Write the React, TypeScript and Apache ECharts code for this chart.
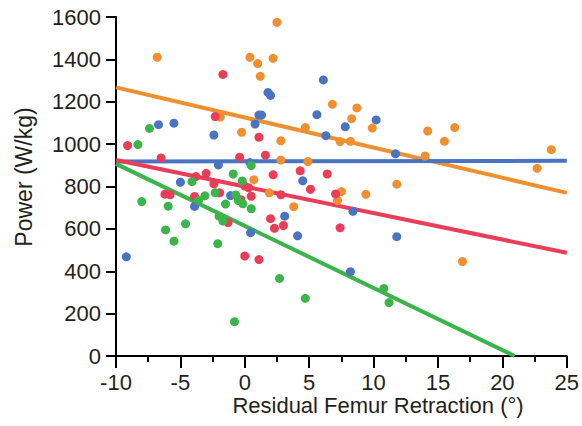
import React, { useEffect, useRef } from "react";
import * as echarts from "echarts";

const xTicks = { min: -10, max: 25, interval: 5 };
const yTicks = { min: 0, max: 1600, interval: 200 };
const xTitle = "Residual Femur Retraction (°)";
const yTitle = "Power (W/kg)";

const orangePts: [number, number][] = [
  [-6.8, 1410], [2.5, 1575], [0.4, 1410], [1.0, 1380], [2.2, 1405], [1.2, 1320],
  [6.8, 1188], [-1.9, 1128], [-0.25, 1056], [4.7, 1078], [2.8, 1016], [2.8, 925],
  [4.9, 918], [0.7, 832], [8.7, 1171], [8.3, 1120], [9.9, 1076], [7.4, 1012],
  [8.2, 1013], [14.2, 1062], [16.3, 1078], [15.5, 1013], [14.0, 944], [23.8, 974],
  [22.7, 886], [11.8, 811], [7.5, 776], [7.2, 734], [9.4, 763], [1.9, 770],
  [3.8, 705], [16.9, 446],
];

const bluePts: [number, number][] = [
  [-6.7, 1092], [-5.5, 1099], [-2.4, 1043], [6.1, 1303], [1.8, 1244], [2.0, 1230],
  [1.1, 1137], [1.3, 1137], [0.8, 1095], [5.6, 1139], [6.3, 1040], [7.8, 1082],
  [10.2, 1114], [11.7, 954], [-2.05, 902], [0.4, 913], [-5.0, 820], [4.5, 827],
  [-3.9, 706], [-1.1, 757], [3.1, 660], [0.45, 582], [4.1, 567], [-9.2, 468],
  [8.4, 683], [11.8, 563], [8.2, 398],
];

const redPts: [number, number][] = [
  [-1.7, 1329], [-2.3, 1130], [1.1, 1033], [-9.1, 993], [-6.5, 935], [-0.4, 938],
  [1.6, 948], [2.2, 855], [4.3, 874], [6.4, 859], [-3.0, 862], [-3.8, 847],
  [-2.4, 812], [5.1, 787], [7.05, 765], [-6.2, 764], [-5.8, 761], [-3.9, 753],
  [-1.95, 770], [0.0, 802], [0.3, 794], [0.5, 754], [-0.3, 738], [2.8, 761],
  [2.0, 648], [2.3, 603], [3.0, 616], [-1.3, 630], [0.0, 472], [1.1, 455],
  [7.4, 605],
];

const greenPts: [number, number][] = [
  [-7.4, 1074], [-8.3, 998], [-0.9, 859], [-0.2, 826], [-4.1, 823], [0.5, 899],
  [-8.0, 729], [-5.95, 707], [-3.6, 734], [-3.1, 756], [-2.3, 771], [-1.5, 717],
  [-0.7, 760], [-0.5, 734], [-0.15, 718], [0.5, 695], [-2.0, 660], [-1.7, 637],
  [-4.6, 624], [-6.15, 595], [-5.5, 542], [-2.1, 530], [2.7, 366], [4.7, 272],
  [-0.8, 162], [10.8, 319], [11.2, 252],
];

const orangeFit: [number, number][] = [[-10, 1268], [25, 770]];
const blueFit: [number, number][] = [[-10, 918], [25, 921]];
const redFit: [number, number][] = [[-10, 925], [25, 487]];
const greenFit: [number, number][] = [[-10, 907], [20.95, 0]];

const COLORS = {
  orange: "#EF9030",
  blue: "#4A74C2",
  red: "#EA3D57",
  green: "#3BB44A",
};

const FONT = "'Liberation Sans', Arial, Helvetica, sans-serif";
const TEXT = "#231F20";

export default function App() {
  const ref = useRef<HTMLDivElement>(null);

  useEffect(() => {
    document.body.style.margin = "0";
    if (!ref.current) return;
    const chart = echarts.init(ref.current, undefined, { renderer: "svg" });

    const scatter = (data: [number, number][], color: string) => ({
      type: "scatter",
      data,
      symbol: "circle",
      symbolSize: 9,
      itemStyle: { color, opacity: 1 },
      z: 3,
      silent: true,
    });
    const fit = (data: [number, number][], color: string) => ({
      type: "line",
      data,
      symbol: "none",
      lineStyle: { color, width: 4 },
      z: 2,
      silent: true,
    });

    chart.setOption({
      animation: false,
      backgroundColor: "#ffffff",
      grid: { left: 116, right: 13, top: 17, bottom: 70, containLabel: false },
      xAxis: {
        type: "value",
        min: xTicks.min,
        max: xTicks.max,
        interval: xTicks.interval,
        axisLine: { show: true, onZero: false, lineStyle: { color: "#000", width: 2 } },
        axisTick: { show: true, length: 12, lineStyle: { color: "#000", width: 2 } },
        minorTick: { show: true, splitNumber: 2, length: 6, lineStyle: { color: "#000", width: 2 } },
        splitLine: { show: false },
        axisLabel: { fontFamily: FONT, fontSize: 22, lineHeight: 18, color: TEXT, margin: 17 },
      },
      yAxis: {
        type: "value",
        min: yTicks.min,
        max: yTicks.max,
        interval: yTicks.interval,
        axisLine: { show: true, onZero: false, lineStyle: { color: "#000", width: 2 } },
        axisTick: { show: true, length: 10, lineStyle: { color: "#000", width: 2 } },
        splitLine: { show: false },
        axisLabel: {
          fontFamily: FONT,
          fontSize: 22,
          color: TEXT,
          margin: 15,
          formatter: (v: number) => String(v),
        },
      },
      graphic: [
        {
          type: "text",
          x: 378,
          y: 405,
          silent: true,
          style: {
            text: xTitle,
            font: `22px ${FONT}`,
            lineHeight: 18,
            fill: TEXT,
            align: "center",
            verticalAlign: "middle",
          },
        },
        {
          type: "text",
          x: 24,
          y: 177,
          rotation: Math.PI / 2,
          silent: true,
          style: {
            text: yTitle,
            font: `23px ${FONT}`,
            fill: TEXT,
            align: "center",
            verticalAlign: "middle",
          },
        },
      ],
      series: [
        fit(orangeFit, COLORS.orange),
        fit(blueFit, COLORS.blue),
        fit(redFit, COLORS.red),
        fit(greenFit, COLORS.green),
        scatter(orangePts, COLORS.orange),
        scatter(bluePts, COLORS.blue),
        scatter(redPts, COLORS.red),
        scatter(greenPts, COLORS.green),
      ],
    });

    return () => chart.dispose();
  }, []);

  return <div ref={ref} style={{ width: 582, height: 426 }} />;
}
